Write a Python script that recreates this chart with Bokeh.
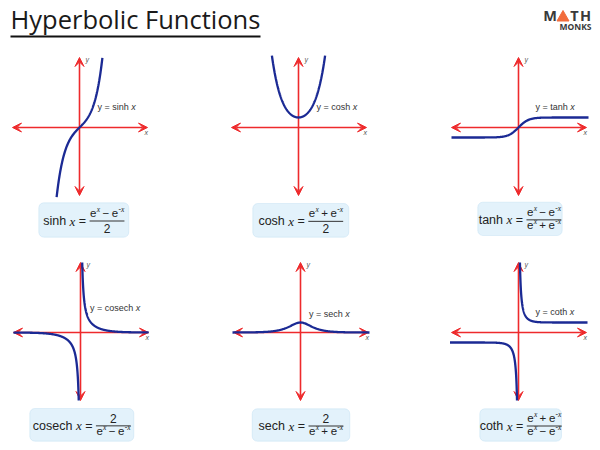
import numpy as np
from bokeh.plotting import figure
from bokeh.layouts import column, row
from bokeh.models import Range1d, Arrow, VeeHead, BoxAnnotation
from bokeh.core.properties import value
from bokeh.embed import file_html
from bokeh.resources import INLINE

# ---------------- data ----------------
TITLE = "Hyperbolic Functions"
LOGO_TOP = ["M", "T", "H"]
LOGO_BOTTOM = "MONKS"

NAMES = ["sinh", "cosh", "tanh", "cosech", "sech", "coth"]
CURVE_LABELS = ["y = sinh", "y = cosh", "y = tanh", "y = cosech", "y = sech", "y = coth"]

# sampled x values (function units) for every curve / branch
SINH_X = np.linspace(-2.86, 2.86, 241)
COSH_X = np.linspace(-2.66, 2.66, 241)
TANH_X = np.linspace(-6.7, 7.0, 241)
COSECH_XR = np.geomspace(0.1566, 6.2, 300)
COSECH_XL = -np.geomspace(0.161, 6.1, 300)
SECH_X = np.linspace(-6.8, 6.9, 241)
COTH_XR = np.geomspace(0.1438, 6.9, 300)
COTH_XL = -np.geomspace(0.1481, 6.85, 300)

CURVES = [
    [(SINH_X, np.sinh(SINH_X))],
    [(COSH_X, np.cosh(COSH_X))],
    [(TANH_X, np.tanh(TANH_X))],
    [(COSECH_XR, 1 / np.sinh(COSECH_XR)), (COSECH_XL, 1 / np.sinh(COSECH_XL))],
    [(SECH_X, 1 / np.cosh(SECH_X))],
    [(COTH_XR, 1 / np.tanh(COTH_XR)), (COTH_XL, 1 / np.tanh(COTH_XL))],
]

# formula parts: b = base token, s = superscript, g = gap
EXP_MINUS = [("e", "b"), ("x", "s"), ("", "g"), ("\u2212", "b"), ("", "g"), ("e", "b"), ("-x", "s")]
EXP_PLUS = [("e", "b"), ("x", "s"), ("", "g"), ("+", "b"), ("", "g"), ("e", "b"), ("-x", "s")]
TWO = [("2", "b")]
FORMULA_NUM = [EXP_MINUS, EXP_PLUS, EXP_MINUS, TWO, TWO, EXP_PLUS]
FORMULA_DEN = [TWO, TWO, EXP_PLUS, EXP_MINUS, EXP_PLUS, EXP_MINUS]

# ---------------- layout / style ----------------
RED = "#ee2a2c"
BLUE = "#1b2a94"
TXT = "#222222"
LBL = "#333333"
BOX_FILL = "#e3f2fb"
BOX_LINE = "#acd4ee"

COLS = [(0, 200), (200, 400), (400, 592)]
TITLE_ROW = (0, 45)
GRAPH_ROWS = [(45, 200), (250, 405)]
FORM_ROWS = [(200, 250), (405, 442)]

PANELS = [
    dict(origin=(79, 127), s=8, label=(97, 106)),
    dict(origin=(298, 127), s=10, label=(316, 106)),
    dict(origin=(518, 127), s=10, label=(535, 106)),
    dict(origin=(80, 332), s=11, label=(89.5, 307)),
    dict(origin=(300, 332), s=10, label=(308.5, 313)),
    dict(origin=(518, 332), s=10, label=(535, 311)),
]

BOXES = [
    (38.3, 128.3, 202.3, 236.7),
    (252.3, 348.3, 203, 236.7),
    (477.3, 561.7, 201.7, 235),
    (29.3, 133.3, 408, 440.7),
    (251.7, 349.3, 408.3, 440.7),
    (479.3, 561, 408.3, 440.7),
]

SANS_W = {'a': 556, 'b': 556, 'c': 500, 'd': 556, 'e': 556, 'h': 556, 'i': 222, 'n': 556,
          'o': 556, 's': 500, 't': 278, ' ': 278, '=': 584, '+': 584, '\u2212': 584,
          '-': 333, '2': 556, 'x': 500, 'y': 500}
SERIF_I_W = {'x': 444, '-': 333}

SANS = "Liberation Sans"
SERIF = "Liberation Serif"
MID_SANS = 0.35   # baseline -> middle offset (em)
MID_SERIF = 0.34
MID_NOTO = 0.388


def tw(t, size, serif=False):
    table = SERIF_I_W if serif else SANS_W
    return sum(table.get(c, 556) for c in t) * size / 1000.0


def base_fig(w, h, xr, yr):
    p = figure(width=w, height=h, x_range=xr, y_range=yr,
               output_backend="svg", toolbar_location=None,
               x_axis_location=None, y_axis_location=None, min_border=0)
    p.outline_line_color = None
    p.background_fill_color = "white"
    p.border_fill_color = "white"
    p.grid.visible = False
    return p


def put(p, x, base, t, size, font=SANS, style="normal", color=TXT, align="left", mid=MID_SANS):
    p.text(x=[x], y=[base - mid * size], text=[t], text_font=value(font),
           text_font_style=style, text_font_size=f"{size}px", text_color=color,
           text_baseline="middle", text_align=align)


def graph(i):
    col, r = i % 3, i // 3
    cl, cr = COLS[col]
    rt, rb = GRAPH_ROWS[r]
    ox, oy = PANELS[i]["origin"]
    s = PANELS[i]["s"]
    p = base_fig(cr - cl, rb - rt,
                 Range1d((cl - ox) / s, (cr - ox) / s),
                 Range1d((oy - rb) / s, (oy - rt) / s))
    for xs, ys, xe, ye in [(-67 / s, 0, 68 / s, 0), (0, -68 / s, 0, 70 / s)]:
        a = Arrow(x_start=xs, y_start=ys, x_end=xe, y_end=ye,
                  start=VeeHead(size=9, fill_color=RED, line_color=RED, line_width=1),
                  end=VeeHead(size=9, fill_color=RED, line_color=RED, line_width=1),
                  line_color=RED, line_width=1.6, level="underlay")
        p.add_layout(a)
    for cx, cy in CURVES[i]:
        p.line(cx, cy, line_color=BLUE, line_width=2.3)
    lx, ly = PANELS[i]["label"]
    txt = CURVE_LABELS[i]
    p.text(x=[(lx - ox) / s], y=[(oy - ly) / s], text=[txt],
           text_font=value(SANS), text_font_size="9px", text_color=LBL,
           text_baseline="middle", text_align="left")
    p.text(x=[(lx + tw(txt + " ", 9) - ox) / s], y=[(oy - ly) / s], text=["x"],
           text_font=value(SANS), text_font_style="italic", text_font_size="9px",
           text_color=LBL, text_baseline="middle", text_align="left")
    p.text(x=[6 / s, 65 / s], y=[68 / s, -4.5 / s], text=["y", "x"],
           text_font=value(SANS), text_font_style="italic", text_font_size="7px",
           text_color="#555555", text_baseline="middle", text_align="left")
    return p


def tokens_width(toks):
    w = 0.0
    for t, k in toks:
        if k == "b":
            w += tw(t, 12 if t == "2" else 11.5)
        elif k == "s":
            w += tw(t, 7.5, serif=True)
        else:
            w += 2.6
    return w


def draw_tokens(p, toks, x0, base):
    x = x0
    for t, k in toks:
        if k == "b":
            size = 12 if t == "2" else 11.5
            put(p, x, base, t, size)
            x += tw(t, size)
        elif k == "s":
            put(p, x + 0.3, base - 5, t, 7.5, font=SERIF, style="italic", mid=MID_SERIF)
            x += tw(t, 7.5, serif=True)
        else:
            x += 2.6


def formula(i):
    col, r = i % 3, i // 3
    cl, cr = COLS[col]
    rt, rb = FORM_ROWS[r]
    p = base_fig(cr - cl, rb - rt, Range1d(cl, cr), Range1d(rb, rt))
    L, R, T, B = BOXES[i]
    box = BoxAnnotation(left=L, right=R, top=T, bottom=B, fill_color=BOX_FILL,
                        fill_alpha=1, line_color=BOX_LINE, line_width=1,
                        border_radius=5, level="underlay")
    p.add_layout(box)
    name = NAMES[i]
    gap = tw(" ", 12.5)
    lhs_w = tw(name, 12.5) + gap + tw("x", 13, serif=True) + gap + tw("=", 12.5) + gap
    num, den = FORMULA_NUM[i], FORMULA_DEN[i]
    wn, wd = tokens_width(num), tokens_width(den)
    fw = max(wn, wd) + 1
    total = lhs_w + fw
    x0 = (L + R) / 2 - total / 2
    bar = (T + B) / 2 + 1
    lb = bar + 4.5
    put(p, x0, lb, name, 12.5)
    xx = x0 + tw(name, 12.5) + gap
    put(p, xx, lb, "x", 13, font=SERIF, style="italic", mid=MID_SERIF)
    xe = xx + tw("x", 13, serif=True) + gap
    put(p, xe, lb, "=", 12.5)
    fx = x0 + lhs_w
    p.segment(x0=[fx], y0=[bar], x1=[fx + fw], y1=[bar], line_color="#333333", line_width=1)
    nb = bar - 3 if num == TWO else bar - 4
    db = bar + 11.5 if den == TWO else bar + 9.5
    draw_tokens(p, num, fx + (fw - wn) / 2, nb)
    draw_tokens(p, den, fx + (fw - wd) / 2, db)
    return p


def title_fig():
    cl, cr = COLS[0][0], COLS[2][1]
    rt, rb = TITLE_ROW
    p = base_fig(cr - cl, rb - rt, Range1d(cl, cr), Range1d(rb, rt))
    put(p, 10, 28.5, TITLE, 25.5, font="Open Sans", color="#1a1a1a", mid=MID_NOTO)
    p.line(x=[10, 260], y=[36, 36], line_color="#111111", line_width=2)
    # logo
    for ch, cx in zip(LOGO_TOP, [549.5, 574, 585]):
        put(p, cx, 20.5, ch, 14.5, font="Noto Sans", style="bold", color="#3a3a3a",
            align="center", mid=MID_NOTO)
    p.patch(x=[556.5, 568.5, 562.5], y=[20.5, 20.5, 10], fill_color="#f26c3c",
            line_color="#f26c3c")
    put(p, 591, 28.8, LOGO_BOTTOM, 8.5, font="Noto Sans", style="bold", color="#3a3a3a",
        align="right", mid=MID_NOTO)
    return p


graphs = [graph(i) for i in range(6)]
forms = [formula(i) for i in range(6)]
layout = column(
    title_fig(),
    row(graphs[0], graphs[1], graphs[2]),
    row(forms[0], forms[1], forms[2]),
    row(graphs[3], graphs[4], graphs[5]),
    row(forms[3], forms[4], forms[5]),
)

open("out.html", "w").write(file_html(layout, INLINE))
